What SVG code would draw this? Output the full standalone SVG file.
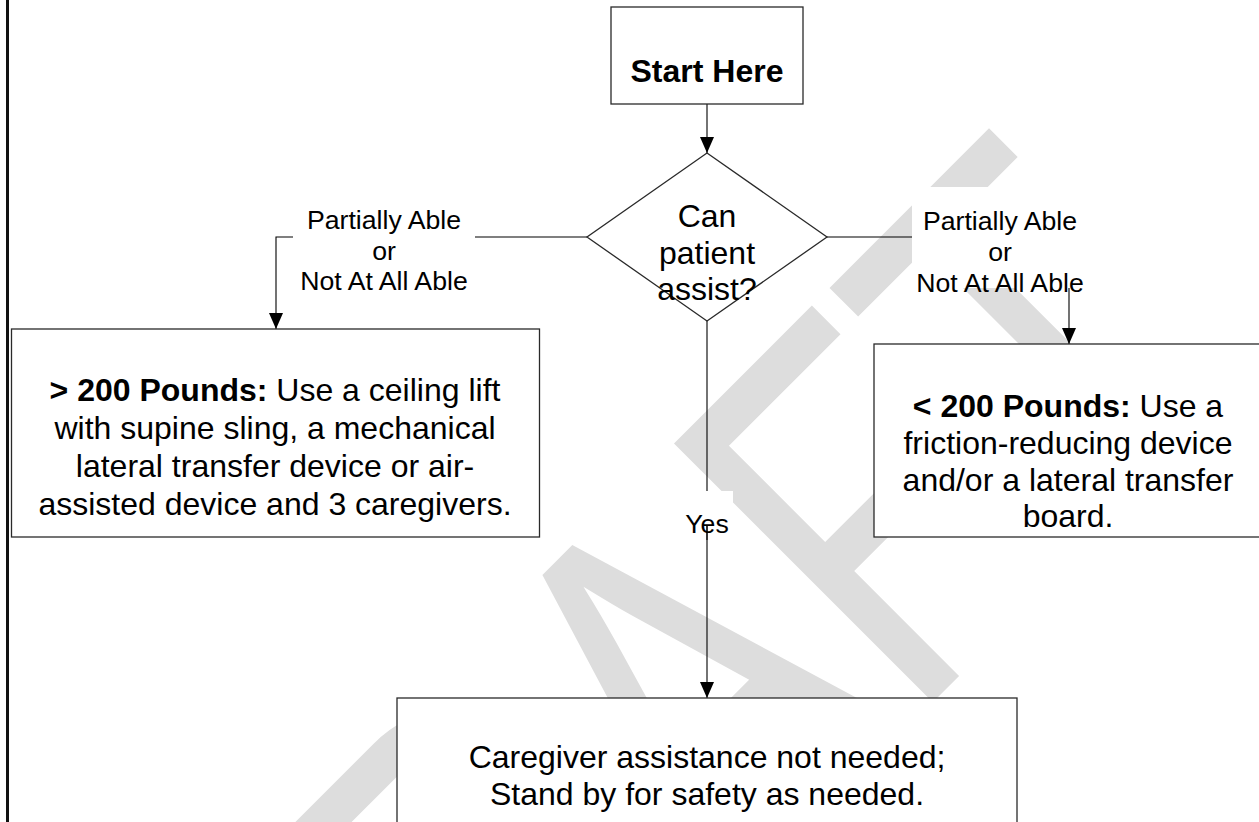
<svg xmlns="http://www.w3.org/2000/svg" width="1259" height="822" viewBox="0 0 1259 822">
  <style>
    .txt { font-family: "Liberation Sans", Arial, sans-serif; fill: #000; }
    .node { font-size: 32px; text-anchor: middle; }
    .lbl { font-size: 26.67px; text-anchor: middle; }
    .b { font-weight: bold; }
    .shape { fill: #fff; stroke: #2a2a2a; stroke-width: 1.3; }
    .edge { fill: none; stroke: #000; stroke-width: 1.1; }
    .mask { fill: #fff; stroke: none; }
    .wm { font-family: "Liberation Sans", Arial, sans-serif; font-size: 532px; fill: #dddddd; font-kerning: none; }
  </style>
  <defs>
    <marker id="arrow" viewBox="0 0 16 14" refX="16" refY="7" markerWidth="16" markerHeight="14" markerUnits="userSpaceOnUse" orient="auto">
      <path d="M0,0 L16,7 L0,14 Z" fill="#000"/>
    </marker>
  </defs>

  <rect x="0" y="0" width="1259" height="822" fill="#fff"/>

  <!-- diagonal watermark behind the chart -->
  <text class="wm" transform="translate(817.5 817.5) rotate(-45) scale(0.75 1)" x="-565.3" y="0">RAFT</text>

  <!-- page edge -->
  <line x1="7.5" y1="0" x2="7.5" y2="822" stroke="#111" stroke-width="3"/>

  <g id="connectors">
    <path class="edge" d="M707,104 V153" marker-end="url(#arrow)"/>
    <path class="edge" d="M587,237 H276 V329" marker-end="url(#arrow)"/>
    <path class="edge" d="M827,237 H1069 V344" marker-end="url(#arrow)"/>
    <path class="edge" d="M707,321 V698" marker-end="url(#arrow)"/>

    <g id="label-left">
      <rect class="mask" x="293" y="187" width="182" height="101"/>
      <text class="txt lbl" x="384" y="229">Partially Able</text>
      <text class="txt lbl" x="384" y="260">or</text>
      <text class="txt lbl" x="384" y="290">Not At All Able</text>
    </g>
    <g id="label-right">
      <rect class="mask" x="912" y="187" width="176" height="101"/>
      <text class="txt lbl" x="1000" y="230">Partially Able</text>
      <text class="txt lbl" x="1000" y="261">or</text>
      <text class="txt lbl" x="1000" y="292">Not At All Able</text>
    </g>
    <g id="label-yes">
      <rect class="mask" x="706" y="491" width="27" height="35"/>
      <text class="txt lbl" x="707" y="533">Yes</text>
      <line x1="707" y1="526" x2="707" y2="540" stroke="#000" stroke-width="1.1"/>
    </g>
  </g>

  <g id="start">
    <rect class="shape" x="611" y="7" width="192" height="97"/>
    <text class="txt node b" x="707" y="82">Start Here</text>
  </g>

  <g id="decision">
    <polygon class="shape" points="707,153 827,237 707,321 587,237"/>
    <text class="txt node" x="707" y="227">Can</text>
    <text class="txt node" x="707" y="264">patient</text>
    <text class="txt node" x="707" y="300">assist?</text>
  </g>

  <g id="heavy">
    <rect class="shape" x="11.5" y="329" width="528" height="208"/>
    <text class="txt node" x="275" y="401"><tspan class="b">&gt; 200 Pounds:</tspan> Use a ceiling lift</text>
    <text class="txt node" x="275" y="439">with supine sling, a mechanical</text>
    <text class="txt node" x="275" y="477">lateral transfer device or air-</text>
    <text class="txt node" x="275" y="515">assisted device and 3 caregivers.</text>
  </g>

  <g id="light">
    <rect class="shape" x="874" y="344" width="392" height="193"/>
    <text class="txt node" x="1068" y="417"><tspan class="b">&lt; 200 Pounds:</tspan> Use a</text>
    <text class="txt node" x="1068" y="454">friction-reducing device</text>
    <text class="txt node" x="1068" y="491">and/or a lateral transfer</text>
    <text class="txt node" x="1068" y="527">board.</text>
  </g>

  <g id="independent">
    <rect class="shape" x="397" y="698" width="620" height="140"/>
    <text class="txt node" x="707" y="768">Caregiver assistance not needed;</text>
    <text class="txt node" x="707" y="805">Stand by for safety as needed.</text>
  </g>
</svg>
